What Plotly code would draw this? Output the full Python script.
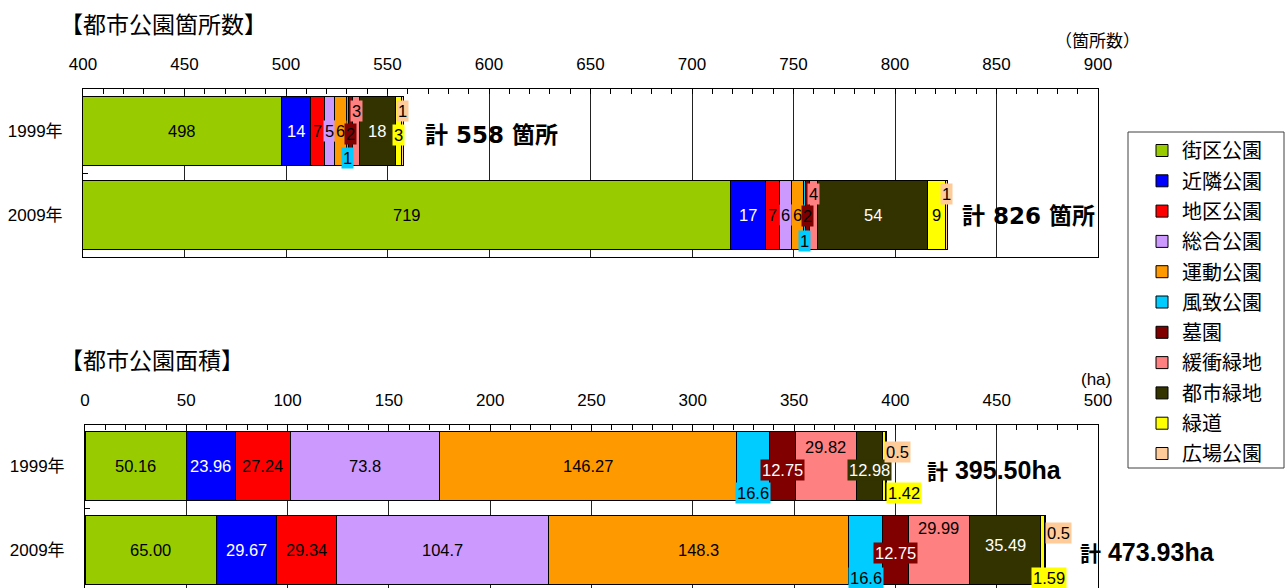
import plotly.graph_objects as go

# ---- data -------------------------------------------------------------
categories = ["街区公園", "近隣公園", "地区公園", "総合公園", "運動公園", "風致公園",
              "墓園", "緩衝緑地", "都市緑地", "緑道", "広場公園"]
years = ["1999年", "2009年"]

# number of parks (箇所)
count_1999 = [498, 14, 7, 5, 6, 1, 2, 3, 18, 3, 1]
count_2009 = [719, 17, 7, 6, 6, 1, 2, 4, 54, 9, 1]

# park area (ha), kept as printed
area_1999 = ["50.16", "23.96", "27.24", "73.8", "146.27", "16.6", "12.75", "29.82", "12.98", "1.42", "0.5"]
area_2009 = ["65.00", "29.67", "29.34", "104.7", "148.3", "16.6", "12.75", "29.99", "35.49", "1.59", "0.5"]

count_ticks = list(range(400, 901, 50))
area_ticks = list(range(0, 501, 50))

# ---- style ------------------------------------------------------------
W, H = 1287, 588
FONT = "Liberation Sans, Noto Sans CJK JP, sans-serif"
BOLD_FONT = "DejaVu Sans, Noto Sans CJK JP, sans-serif"
colors = ["#99CC00", "#0000FF", "#FF0000", "#CC99FF", "#FF9900", "#00CCFF",
          "#800000", "#FF8080", "#333300", "#FFFF00", "#FFCC99"]
count_text_colors = ["black", "white", "black", "black", "black", "black",
                     "black", "black", "white", "black", "black"]
area_text_colors = ["black", "white", "black", "black", "black", "black",
                    "white", "black", "white", "black", "black"]

# label nudges (px) for the thin segments: {category index: (xshift, yshift)}
count_nudge = {
    "1999年": {5: (0, -27), 6: (0, -3), 7: (0, 20), 9: (0, -4), 10: (0, 20)},
    "2009年": {5: (0, -26), 6: (0, -1), 7: (0, 21), 10: (0, 21)},
}
area_nudge = {
    "1999年": {5: (0, -27), 6: (0, -4), 7: (0, 19), 8: (0, -4), 9: (20, -27), 10: (12, 14)},
    "2009年": {5: (0, -28), 6: (0, -3), 7: (0, 22), 8: (0, 5), 9: (6, -28), 10: (14, 17)},
}


def px_x(p):
    return p / W


def px_y(p):
    return 1 - p / H


fig = go.Figure()

charts = [
    dict(xa="x", ya="y", rows={"1999年": [str(v) for v in count_1999],
                               "2009年": [str(v) for v in count_2009]},
         xmin=400, tcolors=count_text_colors, nudge=count_nudge, legend=True),
    dict(xa="x2", ya="y2", rows={"1999年": area_1999, "2009年": area_2009},
         xmin=0, tcolors=area_text_colors, nudge=area_nudge, legend=False),
]

annotations = []
for ch in charts:
    for i, cat in enumerate(categories):
        fig.add_trace(go.Bar(
            name=cat, orientation="h",
            y=years,
            x=[float(ch["rows"][yr][i]) for yr in years],
            marker=dict(color=colors[i], line=dict(color="black", width=1)),
            xaxis=ch["xa"], yaxis=ch["ya"],
            legendgroup=cat, showlegend=ch["legend"],
            hoverinfo="x+name",
        ))
    # segment value labels
    for yr in years:
        start = 0.0
        for i, s in enumerate(ch["rows"][yr]):
            v = float(s)
            end = start + v
            mid = (max(start, ch["xmin"]) + end) / 2
            dx, dy = ch["nudge"][yr].get(i, (0, 0))
            annotations.append(dict(
                x=mid, y=yr, xref=ch["xa"], yref=ch["ya"], text=s,
                showarrow=False, xanchor="center", yanchor="middle",
                xshift=dx, yshift=dy, bgcolor=colors[i], borderpad=1,
                font=dict(family=FONT, size=16.5, color=ch["tcolors"][i]),
            ))
            start = end

# totals to the right of each bar
tot_fmt = [
    ("x", "y", count_1999, "1999年", lambda t: f"計 {t:.0f} 箇所", 19, -4, BOLD_FONT, 23),
    ("x", "y", count_2009, "2009年", lambda t: f"計 {t:.0f} 箇所", 12, -1, BOLD_FONT, 23),
    ("x2", "y2", [float(s) for s in area_1999], "1999年",
     lambda t: f"<span style='font-size:21px'>計</span> {t:.2f}ha", 39, -4, FONT, 25),
    ("x2", "y2", [float(s) for s in area_2009], "2009年",
     lambda t: f"<span style='font-size:21px'>計</span> {t:.2f}ha", 33, -2, FONT, 25),
]
for xa, ya, vals, yr, fmt, dx, dy, fam, size in tot_fmt:
    total = sum(vals)
    annotations.append(dict(
        x=total, y=yr, xref=xa, yref=ya, text=fmt(total), showarrow=False,
        xanchor="left", yanchor="middle", xshift=dx, yshift=dy,
        font=dict(family=fam, size=size, color="black", weight="bold"),
    ))

# chart titles and units
for text, x, y, anchor, size in [
    ("【都市公園箇所数】", 58, 25, "left", 23),
    ("【都市公園面積】", 58, 361, "left", 23),
    ("（箇所数）", 1142, 41, "right", 17),
    ("(ha)", 1113, 379, "right", 17),
]:
    annotations.append(dict(
        x=px_x(x), y=px_y(y), xref="paper", yref="paper", text=text,
        showarrow=False, xanchor=anchor, yanchor="middle",
        font=dict(family=FONT, size=size, color="black"),
    ))

xcommon = dict(
    side="top", showline=True, linecolor="black", linewidth=1, mirror=True,
    showgrid=True, gridcolor="#222222", gridwidth=1, zeroline=False,
    ticks="inside", ticklen=5, tickcolor="black", dtick=50,
    minor=dict(dtick=10, ticks="inside", ticklen=5, tickcolor="black", showgrid=False),
    tickfont=dict(family=FONT, size=17, color="black"), ticklabelstandoff=11,
    fixedrange=True, automargin=False,
)
ycommon = dict(
    type="category", categoryorder="array", categoryarray=years,
    showline=True, linecolor="black", linewidth=1, mirror=True,
    showgrid=False, zeroline=False, ticks="inside", ticklen=5, tickcolor="black",
    tickson="boundaries", tickfont=dict(family=FONT, size=17, color="black"),
    ticklabelstandoff=16, fixedrange=True, automargin=False,
)

fig.update_layout(
    width=W, height=H, margin=dict(l=0, r=0, t=0, b=0, autoexpand=False),
    paper_bgcolor="white", plot_bgcolor="white",
    barmode="stack", bargap=0.19,
    xaxis=dict(xcommon, domain=[px_x(83), px_x(1098)], anchor="y",
               range=[400, 900], tickvals=count_ticks),
    yaxis=dict(ycommon, domain=[px_y(257), px_y(89)], anchor="x", range=[1.5, -0.5]),
    xaxis2=dict(xcommon, domain=[px_x(85), px_x(1098)], anchor="y2",
                range=[0, 500], tickvals=area_ticks),
    yaxis2=dict(ycommon, domain=[0, px_y(425)], anchor="x2", range=[1.452, -0.488]),
    legend=dict(
        x=px_x(1142), y=px_y(131), xanchor="left", yanchor="top",
        bgcolor="rgba(0,0,0,0)", borderwidth=0, tracegroupgap=1.3,
        font=dict(family=FONT, size=20, color="black"), traceorder="grouped",
    ),
    shapes=[dict(type="rect", xref="paper", yref="paper",
                 x0=px_x(1128), x1=px_x(1284), y0=px_y(468), y1=px_y(132),
                 line=dict(color="#404040", width=1), fillcolor="rgba(0,0,0,0)")],
    annotations=annotations,
    showlegend=True,
)

fig.write_html("out.html")
